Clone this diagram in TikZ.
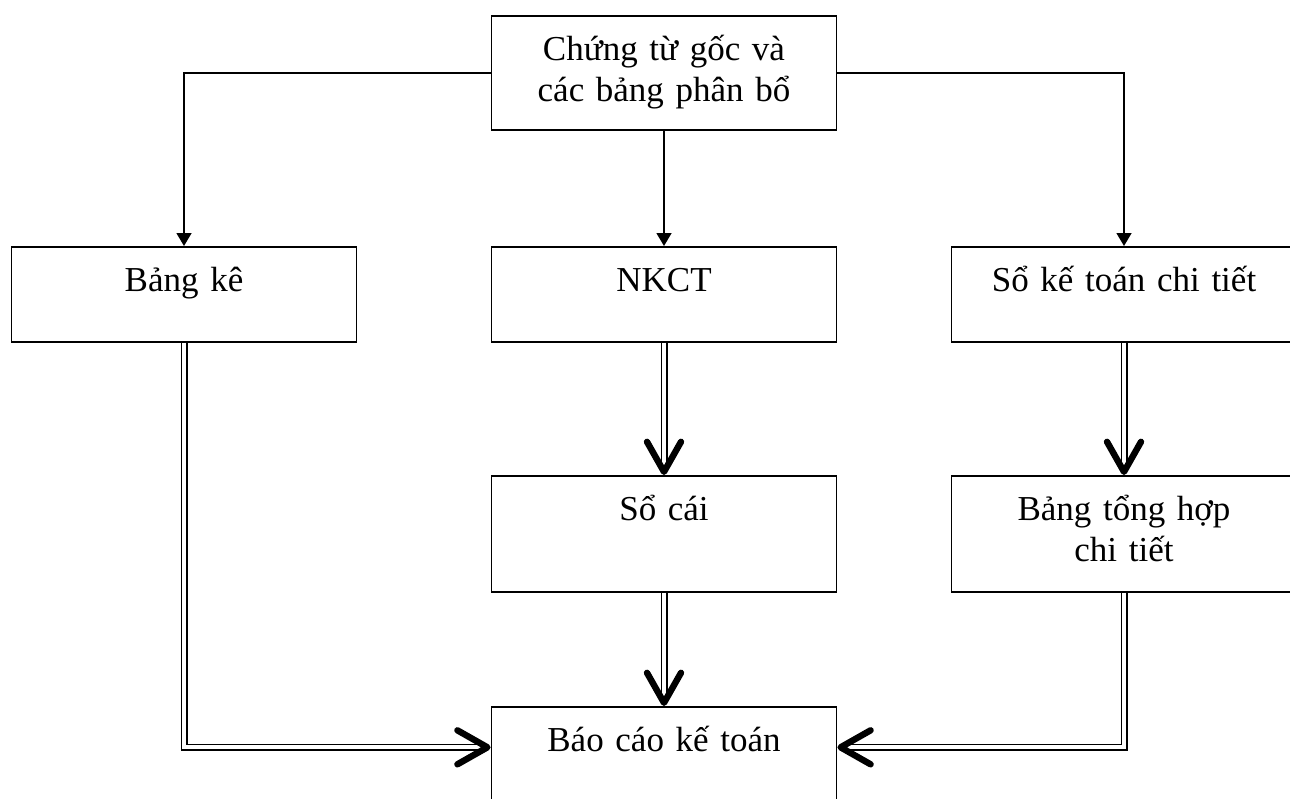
\documentclass[tikz,border=0pt]{standalone}
\usepackage{fontspec}
\setmainfont{Liberation Serif}
\usetikzlibrary{arrows.meta}

\begin{document}
\begin{tikzpicture}[x=0.5pt, y=-0.5pt,
    box/.style={rectangle, draw, line width=0.9pt, anchor=north, inner sep=0pt, text width=172.5pt, minimum width=172.5pt, align=center, text height=22.5pt, font=\fontsize{17.5}{20.5}\selectfont},
    arrow/.style={-{Triangle[length=6.5pt, width=7.5pt]}, line width=0.75pt},
    dblarrow/.style={double, line width=0.75pt, double distance=2pt, -{Straight Barb[length=15pt, width=17pt, line width=3.2pt, round]}}
]
    \useasboundingbox (0,0) rectangle (1290,798);
    \clip (0,0) rectangle (1290,798);

    \node[box, text depth=34.5pt] (goc) at (664,15) {Chứng từ gốc và\\các bảng phân bổ};
    \node[box, text depth=25pt] (bangke) at (184,246) {Bảng kê};
    \node[box, text depth=25pt] (nkct) at (664,246) {NKCT};
    \node[box, text depth=25pt] (sochitiet) at (1124,246) {Sổ kế toán chi tiết};
    \node[box, text depth=35.5pt] (socai) at (664,475) {Sổ cái};
    \node[box, text depth=35.5pt] (tonghop) at (1124,475) {Bảng tổng hợp\\chi tiết};
    \node[box, text depth=35pt] (baocao) at (664,706) {Báo cáo kế toán};

    \draw[arrow] (goc.west) -| (bangke.north);
    \draw[arrow] (goc.south) -- (nkct.north);
    \draw[arrow] (goc.east) -| (sochitiet.north);

    \draw[dblarrow] (nkct.south) -- (socai.north);
    \draw[dblarrow] (socai.south) -- (baocao.north);
    \draw[dblarrow] (sochitiet.south) -- (tonghop.north);
    \draw[dblarrow] (bangke.south) |- (baocao.mid west);
    \draw[dblarrow] (tonghop.south) |- (baocao.mid east);
\end{tikzpicture}
\end{document}
